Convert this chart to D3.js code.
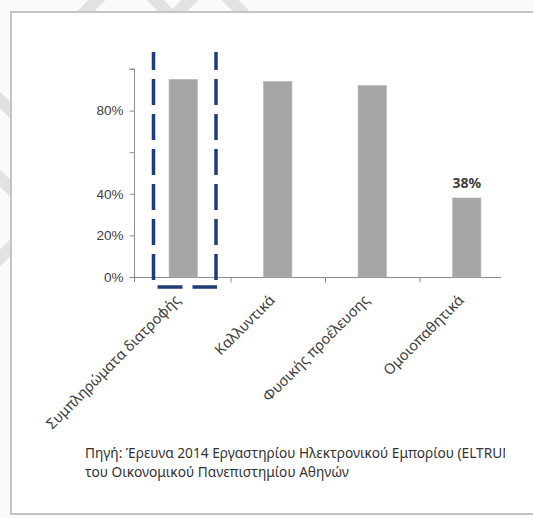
<!DOCTYPE html>
<html>
<head>
<meta charset="utf-8">
<script src="https://cdn.jsdelivr.net/npm/d3@7"></script>
<style>
  html, body { margin: 0; padding: 0; background: #fafafa; }
  svg { display: block; font-family: "Noto Sans", "Open Sans", sans-serif; }
</style>
</head>
<body>
<svg id="chart" width="533" height="518"></svg>
<script>
// ---- data ----
var categories = ['Συμπληρώματα διατροφής', 'Καλλυντικά', 'Φυσικής προέλευσης', 'Ομοιοπαθητικά'];
var shares = [95, 94, 92, 38]; // percent of respondents
var valueLabels = ['', '', '', '38%']; // only the last bar is labelled
var yTicks = [0, 20, 40, 60, 80, 100];
var yTickLabels = ['0%', '20%', '40%', '', '80%', ''];
var highlighted = 'Συμπληρώματα διατροφής';
var sourceLines = [
  'Πηγή: Έρευνα 2014 Εργαστηρίου Ηλεκτρονικού Εμπορίου (ELTRUN)',
  'του Οικονομικού Πανεπιστημίου Αθηνών'
];

var svg = d3.select('#chart');
var axisColor = '#8c8c8c';
var textColor = '#404040';

// faint watermark stripes behind the card
var stripes = [
  [72, 25, 112, -15], [140, -15, 180, 25], [165, 25, 205, -15], [215, -15, 255, 25],
  [-15, 85, 25, 125], [-15, 163, 25, 203], [-15, 273, 25, 233]
];
svg.selectAll('.stripe')
  .data(stripes)
  .join('line')
  .attr('class', 'stripe')
  .attr('x1', function (d) { return d[0]; })
  .attr('y1', function (d) { return d[1]; })
  .attr('x2', function (d) { return d[2]; })
  .attr('y2', function (d) { return d[3]; })
  .attr('stroke', '#e2e2e2')
  .attr('stroke-width', 12);

// white card
svg.append('rect')
  .attr('x', 11).attr('y', 12)
  .attr('width', 540).attr('height', 502)
  .attr('fill', '#fff')
  .attr('stroke', '#c4c4c4')
  .attr('stroke-width', 2);

// ---- scales ----
var x = d3.scaleBand()
  .domain(categories)
  .range([136, 514]);

var y = d3.scaleLinear()
  .domain([0, 100])
  .range([277, 69]);

var barWidth = x.bandwidth() * 0.3;

// y axis
var yAxis = svg.append('g')
  .attr('transform', 'translate(134.5,0)')
  .call(d3.axisLeft(y)
    .tickValues(yTicks)
    .tickSize(5)
    .tickPadding(6)
    .tickFormat(function (d, i) { return yTickLabels[i]; }));
yAxis.select('.domain').attr('stroke', axisColor).attr('d', 'M-5,' + y(100) + 'H0V' + (y(0) + 5));
yAxis.selectAll('.tick line').attr('stroke', axisColor);
yAxis.selectAll('.tick text')
  .attr('fill', textColor)
  .style('font-size', '13.5px');

// x axis: ticks sit on band boundaries
var boundary = d3.scaleLinear().domain([0, categories.length]).range(x.range());
var xAxis = svg.append('g')
  .attr('transform', 'translate(0,' + (y(0) + 0.5) + ')')
  .call(d3.axisBottom(boundary)
    .tickValues([1, 2, 3])
    .tickSize(5)
    .tickFormat(''));
xAxis.select('.domain').attr('stroke', axisColor).attr('d', 'M134.5,0H501');
xAxis.selectAll('.tick line').attr('stroke', axisColor);

// bars
svg.selectAll('.bar')
  .data(categories)
  .join('rect')
  .attr('class', 'bar')
  .attr('x', function (d) { return x(d) + (x.bandwidth() - barWidth) / 2; })
  .attr('y', function (d, i) { return y(shares[i]); })
  .attr('width', barWidth)
  .attr('height', function (d, i) { return y(0) - y(shares[i]); })
  .attr('fill', '#a6a6a6')
  .attr('stroke', '#b4b4b4')
  .attr('stroke-width', 0.6);

// value labels
svg.selectAll('.value')
  .data(categories)
  .join('text')
  .attr('class', 'value')
  .attr('x', function (d) { return x(d) + x.bandwidth() / 2; })
  .attr('y', function (d, i) { return y(shares[i]) - 10; })
  .attr('text-anchor', 'middle')
  .attr('fill', textColor)
  .style('font-size', '14px')
  .style('font-weight', 'bold')
  .text(function (d, i) { return valueLabels[i]; });

// category labels, rotated
svg.selectAll('.cat')
  .data(categories)
  .join('text')
  .attr('class', 'cat')
  .attr('transform', function (d) {
    return 'translate(' + (x(d) + x.bandwidth() / 2 - 2) + ',' + (y(0) + 24) + ') rotate(-45)';
  })
  .attr('text-anchor', 'end')
  .attr('fill', textColor)
  .style('font-size', '14.5px')
  .text(function (d) { return d; });

// dashed highlight around the first category
var hx0 = x(highlighted) + 17.5;
var hx1 = x(highlighted) + 80;
var hTop = y(100) - 17;
var hBottom = y(0) + 10;
var dash = { stroke: '#1f3b78', 'stroke-width': 3.5, 'stroke-dasharray': '26,9', 'stroke-dashoffset': 8 };

[[hx0, hTop, hx0, hBottom - 6], [hx1, hTop, hx1, hBottom - 6]].forEach(function (l) {
  var ln = svg.append('line')
    .attr('x1', l[0]).attr('y1', l[1]).attr('x2', l[2]).attr('y2', l[3]);
  Object.keys(dash).forEach(function (k) { ln.attr(k, dash[k]); });
});
svg.append('line')
  .attr('x1', hx0 + 4).attr('y1', hBottom)
  .attr('x2', hx1 + 1).attr('y2', hBottom)
  .attr('stroke', dash.stroke)
  .attr('stroke-width', dash['stroke-width'])
  .attr('stroke-dasharray', '25,10');

// source note, cut at the right like the original
svg.append('clipPath').attr('id', 'noteClip')
  .append('rect').attr('x', 0).attr('y', 430).attr('width', 505).attr('height', 60);

svg.append('g')
  .attr('clip-path', 'url(#noteClip)')
  .selectAll('text')
  .data(sourceLines)
  .join('text')
  .attr('x', 85)
  .attr('y', function (d, i) { return 458 + i * 19; })
  .attr('fill', '#333')
  .style('font-size', '13.7px')
  .text(function (d) { return d; });
</script>
</body>
</html>
